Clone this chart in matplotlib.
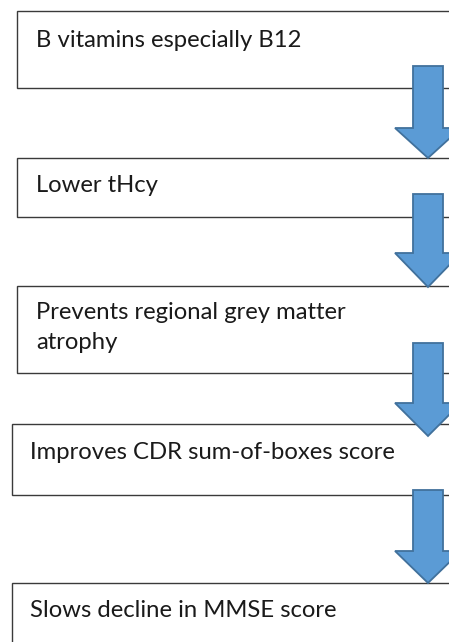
import matplotlib.pyplot as plt
from matplotlib.patches import Rectangle, Polygon

# Flow steps
labels = [
    "B vitamins especially B12",
    "Lower tHcy",
    "Prevents regional grey matter\natrophy",
    "Improves CDR sum-of-boxes score",
    "Slows decline in MMSE score",
]

# box geometry in pixel coords (left, top, bottom)
box_left = [17, 17, 17, 12, 12]
box_top = [11, 158, 286, 424, 583]
box_bottom = [88, 217, 373, 495, 660]
text_x = [36, 36, 36, 30, 30]
text_top = [30, 175, 302, 442, 600]

# arrows: shaft top, head base, tip
arrow_top = [66, 194, 343, 490]
arrow_base = [128, 253, 403, 551]
arrow_tip = [158, 287, 436, 583]
arrow_cx = 428

fig = plt.figure(figsize=(4.49, 6.42), dpi=100)
ax = fig.add_axes([0, 0, 1, 1])
ax.set_xlim(0, 449)
ax.set_ylim(642, 0)
ax.axis('off')

for i, lab in enumerate(labels):
    ax.add_patch(Rectangle((box_left[i], box_top[i]), 500, box_bottom[i] - box_top[i],
                           facecolor='white', edgecolor='#3a3a3a', lw=1.0, zorder=1))
    ax.text(text_x[i], text_top[i], lab, ha='left', va='top', fontsize=17.2,
            family='Lato', color='#1a1a1a', linespacing=1.52, zorder=3)

for i in range(len(arrow_top)):
    pts = [(arrow_cx - 15, arrow_top[i]), (arrow_cx + 15, arrow_top[i]),
           (arrow_cx + 15, arrow_base[i]), (arrow_cx + 33, arrow_base[i]),
           (arrow_cx, arrow_tip[i]), (arrow_cx - 33, arrow_base[i]),
           (arrow_cx - 15, arrow_base[i])]
    ax.add_patch(Polygon(pts, closed=True, facecolor='#5b9bd5', edgecolor='#41719c',
                         lw=1.3, zorder=2))

plt.savefig('out.png', dpi=100)
